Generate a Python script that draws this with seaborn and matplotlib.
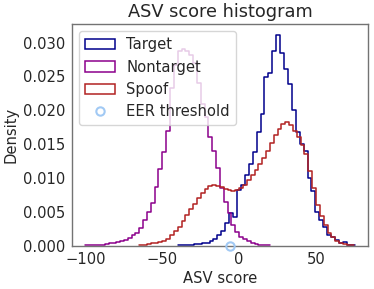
import numpy as np
import matplotlib
matplotlib.use("Agg")
import matplotlib.pyplot as plt
from matplotlib.patches import Patch
from matplotlib.lines import Line2D
import seaborn as sns

# ---- data (densities) ----
target_start = -39.65
target_width = 2.55
target_density = [
    0.00005, 0.00005, 0.0001, 0.0001, 0.0002, 0.0002, 0.0003, 0.0004,
    0.0006, 0.0009, 0.0015, 0.0022, 0.0033, 0.0048, 0.0042,
    0.0082, 0.0090, 0.0104, 0.0120, 0.0139, 0.0168, 0.0195, 0.0249,
    0.0255, 0.0288, 0.0312, 0.0285, 0.0261, 0.0239, 0.0200, 0.0168,
    0.0150, 0.0140, 0.0100, 0.0080, 0.0050, 0.0038, 0.0028, 0.0016,
    0.0012, 0.0008, 0.0003, 0.0005, 0.0001, 0.0001,
]

nontarget_start = -100.0
nontarget_width = 2.5
nontarget_density = [
    0.00005, 0.00005, 0.0001, 0.0001, 0.0001, 0.0002, 0.0003, 0.0004,
    0.0005, 0.0006, 0.0008, 0.0011, 0.0015, 0.0019, 0.0026, 0.0037,
    0.0050, 0.0063, 0.0087, 0.0113, 0.0139, 0.0169, 0.0233, 0.0267,
    0.0288, 0.0290, 0.0287, 0.0282, 0.0270, 0.0240, 0.0210, 0.0190,
    0.0160, 0.0140, 0.0115, 0.0085, 0.0065, 0.0048, 0.0030, 0.0020,
    0.0013, 0.0009, 0.0006, 0.0004, 0.0002, 0.0001, 0.0001, 0.00005,
]

spoof_start = -65.0
spoof_width = 2.5
spoof_density = [
    0.00005, 0.0001, 0.0002, 0.0003, 0.0004, 0.0005, 0.0007, 0.0010,
    0.0015, 0.0021, 0.0028, 0.0036, 0.0045, 0.0054, 0.0062, 0.0070,
    0.0078, 0.0084, 0.0088, 0.0090, 0.0088, 0.0086, 0.0084, 0.0082,
    0.0081, 0.0082, 0.0085, 0.0090, 0.0097, 0.0105, 0.0112, 0.0121,
    0.0130, 0.0140, 0.0151, 0.0164, 0.0173, 0.0180, 0.0183, 0.0178,
    0.0170, 0.0160, 0.0148, 0.0135, 0.0110, 0.0085, 0.0060, 0.0043,
    0.0030, 0.0018, 0.0012, 0.0007, 0.0004, 0.0002, 0.0001, 0.00005,
]

eer_threshold = -6.0
eer_y = 0.0

labels = ["Target", "Nontarget", "Spoof", "EER threshold"]
colors = ["darkblue", "darkmagenta", "firebrick"]
eer_color = "#a1c9f4"

# ---- style ----
sns.set_theme(style="white")
plt.rcParams["font.family"] = ["DejaVu Sans"]
plt.rcParams.update({
    "font.size": 10.6,
    "axes.titlesize": 12.8,
    "axes.labelsize": 10.6,
    "xtick.labelsize": 10.6,
    "ytick.labelsize": 10.6,
    "legend.fontsize": 10.6,
})

fig, ax = plt.subplots(figsize=(3.74, 2.89), dpi=100)
fig.subplots_adjust(left=0.1925, right=0.984, bottom=0.1505, top=0.917)

series = [
    (target_start, target_width, target_density),
    (nontarget_start, nontarget_width, nontarget_density),
    (spoof_start, spoof_width, spoof_density),
]
for (start, width, dens), col, lab in zip(series, colors, labels[:3]):
    dens = np.asarray(dens)
    edges = start + width * np.arange(len(dens) + 1)
    centers = (edges[:-1] + edges[1:]) / 2
    sns.histplot(x=centers, weights=dens, bins=edges.tolist(), stat="count",
                 element="step", fill=False, color=col, linewidth=1.1,
                 label=lab, ax=ax)

ax.plot([eer_threshold], [eer_y], linestyle="none", marker="o",
        markersize=6, markerfacecolor="none", markeredgecolor=eer_color,
        markeredgewidth=1.5, clip_on=False, zorder=5)

ax.set_title("ASV score histogram", pad=5)
ax.set_xlabel("ASV score", labelpad=3)
ax.set_ylabel("Density", labelpad=3)
ax.tick_params(axis="x", length=0, pad=4.5)
ax.tick_params(axis="y", length=0, pad=5)

for sp in ax.spines.values():
    sp.set_color("0.45")
    sp.set_linewidth(1.0)

handles = [Patch(facecolor="none", edgecolor=c, linewidth=1.1) for c in colors]
handles.append(Line2D([], [], linestyle="none", marker="o", markersize=6,
                      markerfacecolor="none", markeredgecolor=eer_color,
                      markeredgewidth=1.5))
ax.legend(handles, labels, loc="upper left")

fig.savefig("out.png", dpi=100)
